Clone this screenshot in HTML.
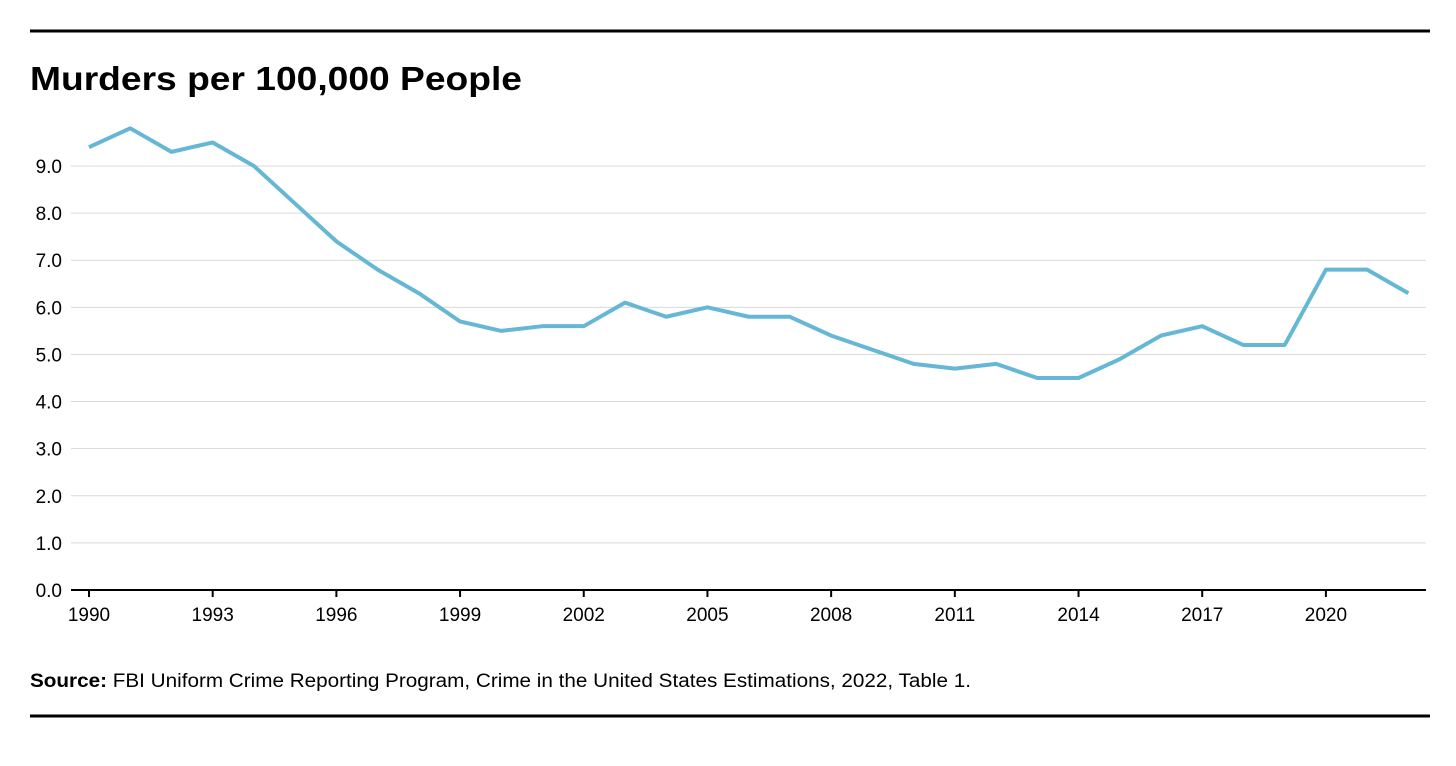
<!DOCTYPE html>
<html><head><meta charset="utf-8"><style>
body{margin:0;background:#fff;width:1456px;height:761px;overflow:hidden;font-family:"Liberation Sans",sans-serif}
</style></head><body>
<svg width="1456" height="761" font-family="Liberation Sans, sans-serif">
<rect x="30" y="29.5" width="1400" height="3" fill="#000"/>
<text x="30" y="90" font-size="33" font-weight="bold" fill="#000" textLength="492" lengthAdjust="spacingAndGlyphs">Murders per 100,000 People</text>
<g id="grid"></g><g id="xax"></g>
<path id="line" fill="none" stroke="#66b7d6" stroke-width="4" stroke-linejoin="round"/>
<text x="30" y="687" font-size="19" fill="#000" textLength="941" lengthAdjust="spacingAndGlyphs"><tspan font-weight="bold">Source:</tspan> FBI Uniform Crime Reporting Program, Crime in the United States Estimations, 2022, Table 1.</text>
<rect x="30" y="714.5" width="1400" height="3" fill="#000"/>
</svg>
<script>
const years=[1990,1991,1992,1993,1994,1995,1996,1997,1998,1999,2000,2001,2002,2003,2004,2005,2006,2007,2008,2009,2010,2011,2012,2013,2014,2015,2016,2017,2018,2019,2020,2021,2022];
const rates=[9.4,9.8,9.3,9.5,9.0,8.2,7.4,6.8,6.3,5.7,5.5,5.6,5.6,6.1,5.8,6.0,5.8,5.8,5.4,5.1,4.8,4.7,4.8,4.5,4.5,4.9,5.4,5.6,5.2,5.2,6.8,6.8,6.3];
const yTicks=[0,1,2,3,4,5,6,7,8,9];
const xTicks=[1990,1993,1996,1999,2002,2005,2008,2011,2014,2017,2020];
const NS="http://www.w3.org/2000/svg";
const x=v=>89+(v-1990)*41.23;
const y=v=>590-v*47.11;
const g=document.getElementById('grid'),xa=document.getElementById('xax');
function mk(t,a,p){const e=document.createElementNS(NS,t);for(const k in a)e.setAttribute(k,a[k]);p.appendChild(e);return e;}
yTicks.forEach(t=>{
 if(t>0){const l=mk('line',{x1:71,x2:1426,y1:y(t),y2:y(t),stroke:'#d9d9d9','stroke-width':1},g);
 
 }
 const tx=mk('text',{x:62,y:y(t)+7,'font-size':19,'text-anchor':'end',fill:'#000'},g);tx.textContent=t.toFixed(1);
 
 
});
const ax=mk('line',{x1:71,x2:1426,y1:590,y2:590,stroke:'#000','stroke-width':2},xa);


xTicks.forEach(t=>{
 const tk=mk('line',{x1:x(t),x2:x(t),y1:590,y2:597,stroke:'#000','stroke-width':2},xa);
 
 
 const tx=mk('text',{x:x(t),y:621,'font-size':19,'text-anchor':'middle',fill:'#000'},xa);tx.textContent=t;
 
 
});
document.getElementById('line').setAttribute('d',years.map((yr,i)=>(i?'L':'M')+x(yr)+','+y(rates[i])).join(''));
</script>
</body></html>
